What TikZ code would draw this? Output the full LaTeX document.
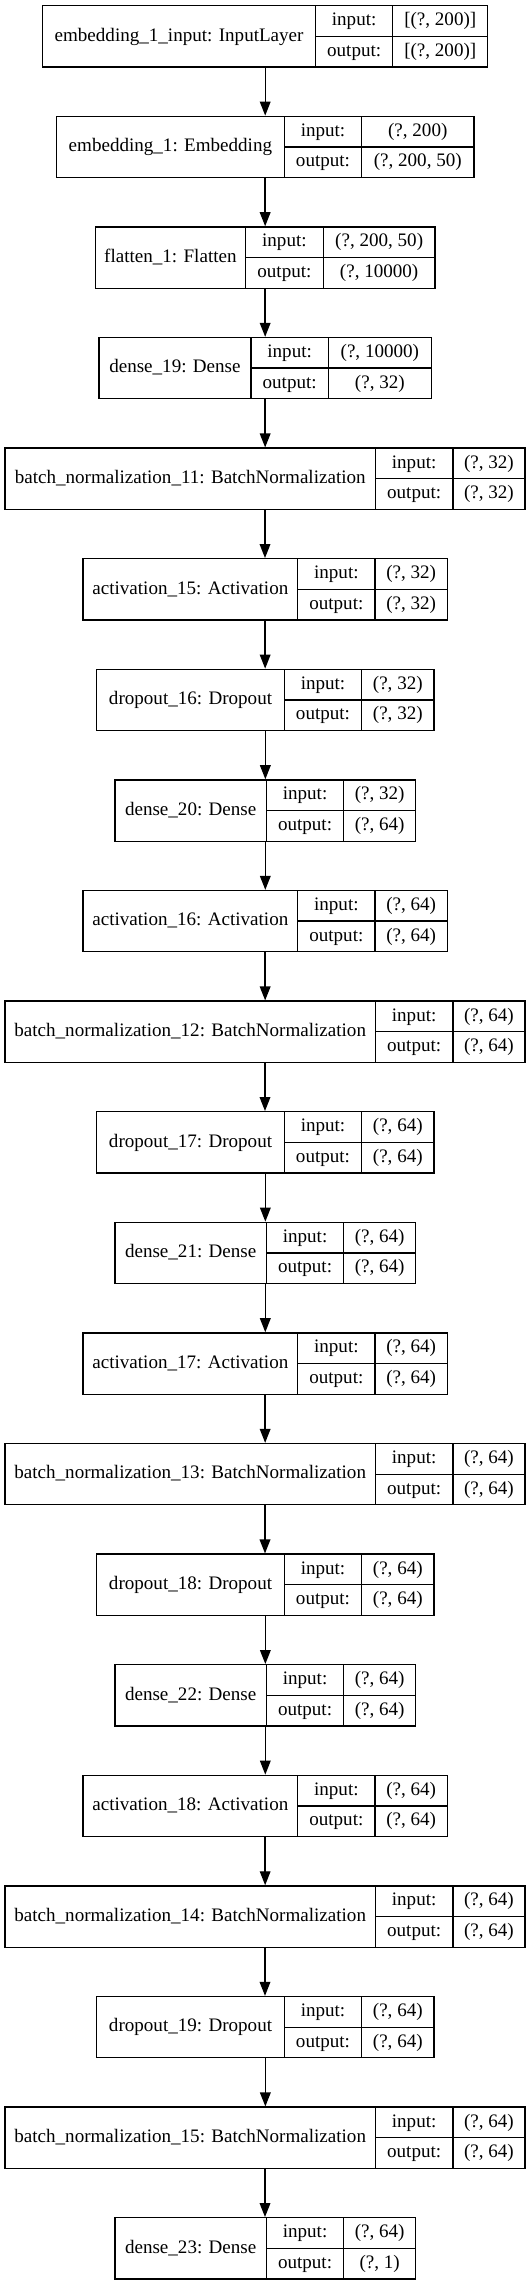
\documentclass[tikz,border=0pt]{standalone}
\usepackage{fontspec}
\setmainfont{Liberation Serif}
\usetikzlibrary{arrows.meta}
\tikzset{
  layerbox/.style={draw=black,line width=1pt,rectangle,inner sep=0pt},
  divider/.style={draw=black,line width=1pt},
  celltext/.style={inner sep=0pt,font=\fontsize{14.3}{17}\selectfont,text height=10pt,text depth=3pt},
  flow/.style={-{Triangle[length=10.5pt,width=8pt]},line width=1pt,draw=black}
}
\newcommand\kerasLayer[8]{%
  \pgfmathsetmacro\yT{5.7+110.6*#1}%
  \pgfmathsetmacro\yB{\yT+61.3}%
  \pgfmathsetmacro\yM{\yT+30.65}%
  \pgfmathsetmacro\yU{\yT+15.3}%
  \pgfmathsetmacro\yL{\yT+46.0}%
  \pgfmathsetmacro\bw{(#6-#3)*0.75}%
  \pgfmathsetmacro\bh{61.3*0.75}%
  \node[layerbox,minimum width=\bw pt,minimum height=\bh pt] (B#1) at ({(#3+#6)/2},\yM) {};
  \draw[divider] (#4,\yT) -- (#4,\yB) (#5,\yT) -- (#5,\yB) (#4,\yM) -- (#6,\yM);
  \node[celltext] (N#1) at ({(#3+#4)/2},\yM) {#2};
  \node[celltext] (I#1) at ({(#4+#5)/2},\yU) {input:};
  \node[celltext] (O#1) at ({(#4+#5)/2},\yL) {output:};
  \node[celltext] (VI#1) at ({(#5+#6)/2},\yU) {#7};
  \node[celltext] (VO#1) at ({(#5+#6)/2},\yL) {#8};
}
\begin{document}
\begin{tikzpicture}[x=0.75pt,y=-0.75pt]
\useasboundingbox (0,0) rectangle (531,2287);
\fill[white] (0,0) rectangle (531,2287);
\kerasLayer{0}{embedding\_1\_input: InputLayer}{42.6}{315.6}{392.7}{487.8}{[(?, 200)]}{[(?, 200)]}
\kerasLayer{1}{embedding\_1: Embedding}{56.4}{284.4}{361.6}{473.9}{(?, 200)}{(?, 200, 50)}
\kerasLayer{2}{flatten\_1: Flatten}{95.3}{245.5}{323.3}{435.0}{(?, 200, 50)}{(?, 10000)}
\kerasLayer{3}{dense\_19: Dense}{99.0}{250.9}{328.4}{431.3}{(?, 10000)}{(?, 32)}
\kerasLayer{4}{batch\_normalization\_11: BatchNormalization}{5}{375.4}{452.9}{525}{(?, 32)}{(?, 32)}
\kerasLayer{5}{activation\_15: Activation}{83.1}{297.6}{375.1}{447.2}{(?, 32)}{(?, 32)}
\kerasLayer{6}{dropout\_16: Dropout}{96.7}{284.4}{361.6}{434.0}{(?, 32)}{(?, 32)}
\kerasLayer{7}{dense\_20: Dense}{114.9}{266.5}{343.6}{415.7}{(?, 32)}{(?, 64)}
\kerasLayer{8}{activation\_16: Activation}{83.1}{297.6}{375.1}{447.2}{(?, 64)}{(?, 64)}
\kerasLayer{9}{batch\_normalization\_12: BatchNormalization}{5}{375.4}{452.9}{525}{(?, 64)}{(?, 64)}
\kerasLayer{10}{dropout\_17: Dropout}{96.7}{284.4}{361.6}{434.0}{(?, 64)}{(?, 64)}
\kerasLayer{11}{dense\_21: Dense}{114.9}{266.5}{343.6}{415.7}{(?, 64)}{(?, 64)}
\kerasLayer{12}{activation\_17: Activation}{83.1}{297.6}{375.1}{447.2}{(?, 64)}{(?, 64)}
\kerasLayer{13}{batch\_normalization\_13: BatchNormalization}{5}{375.4}{452.9}{525}{(?, 64)}{(?, 64)}
\kerasLayer{14}{dropout\_18: Dropout}{96.7}{284.4}{361.6}{434.0}{(?, 64)}{(?, 64)}
\kerasLayer{15}{dense\_22: Dense}{114.9}{266.5}{343.6}{415.7}{(?, 64)}{(?, 64)}
\kerasLayer{16}{activation\_18: Activation}{83.1}{297.6}{375.1}{447.2}{(?, 64)}{(?, 64)}
\kerasLayer{17}{batch\_normalization\_14: BatchNormalization}{5}{375.4}{452.9}{525}{(?, 64)}{(?, 64)}
\kerasLayer{18}{dropout\_19: Dropout}{96.7}{284.4}{361.6}{434.0}{(?, 64)}{(?, 64)}
\kerasLayer{19}{batch\_normalization\_15: BatchNormalization}{5}{375.4}{452.9}{525}{(?, 64)}{(?, 64)}
\kerasLayer{20}{dense\_23: Dense}{114.9}{266.5}{343.6}{415.7}{(?, 64)}{(?, 1)}
\foreach \i [evaluate=\i as \j using int(\i+1)] in {0,...,19}
  \draw[flow] (B\i.south) -- (B\i.south |- B\j.north);
\end{tikzpicture}
\end{document}
